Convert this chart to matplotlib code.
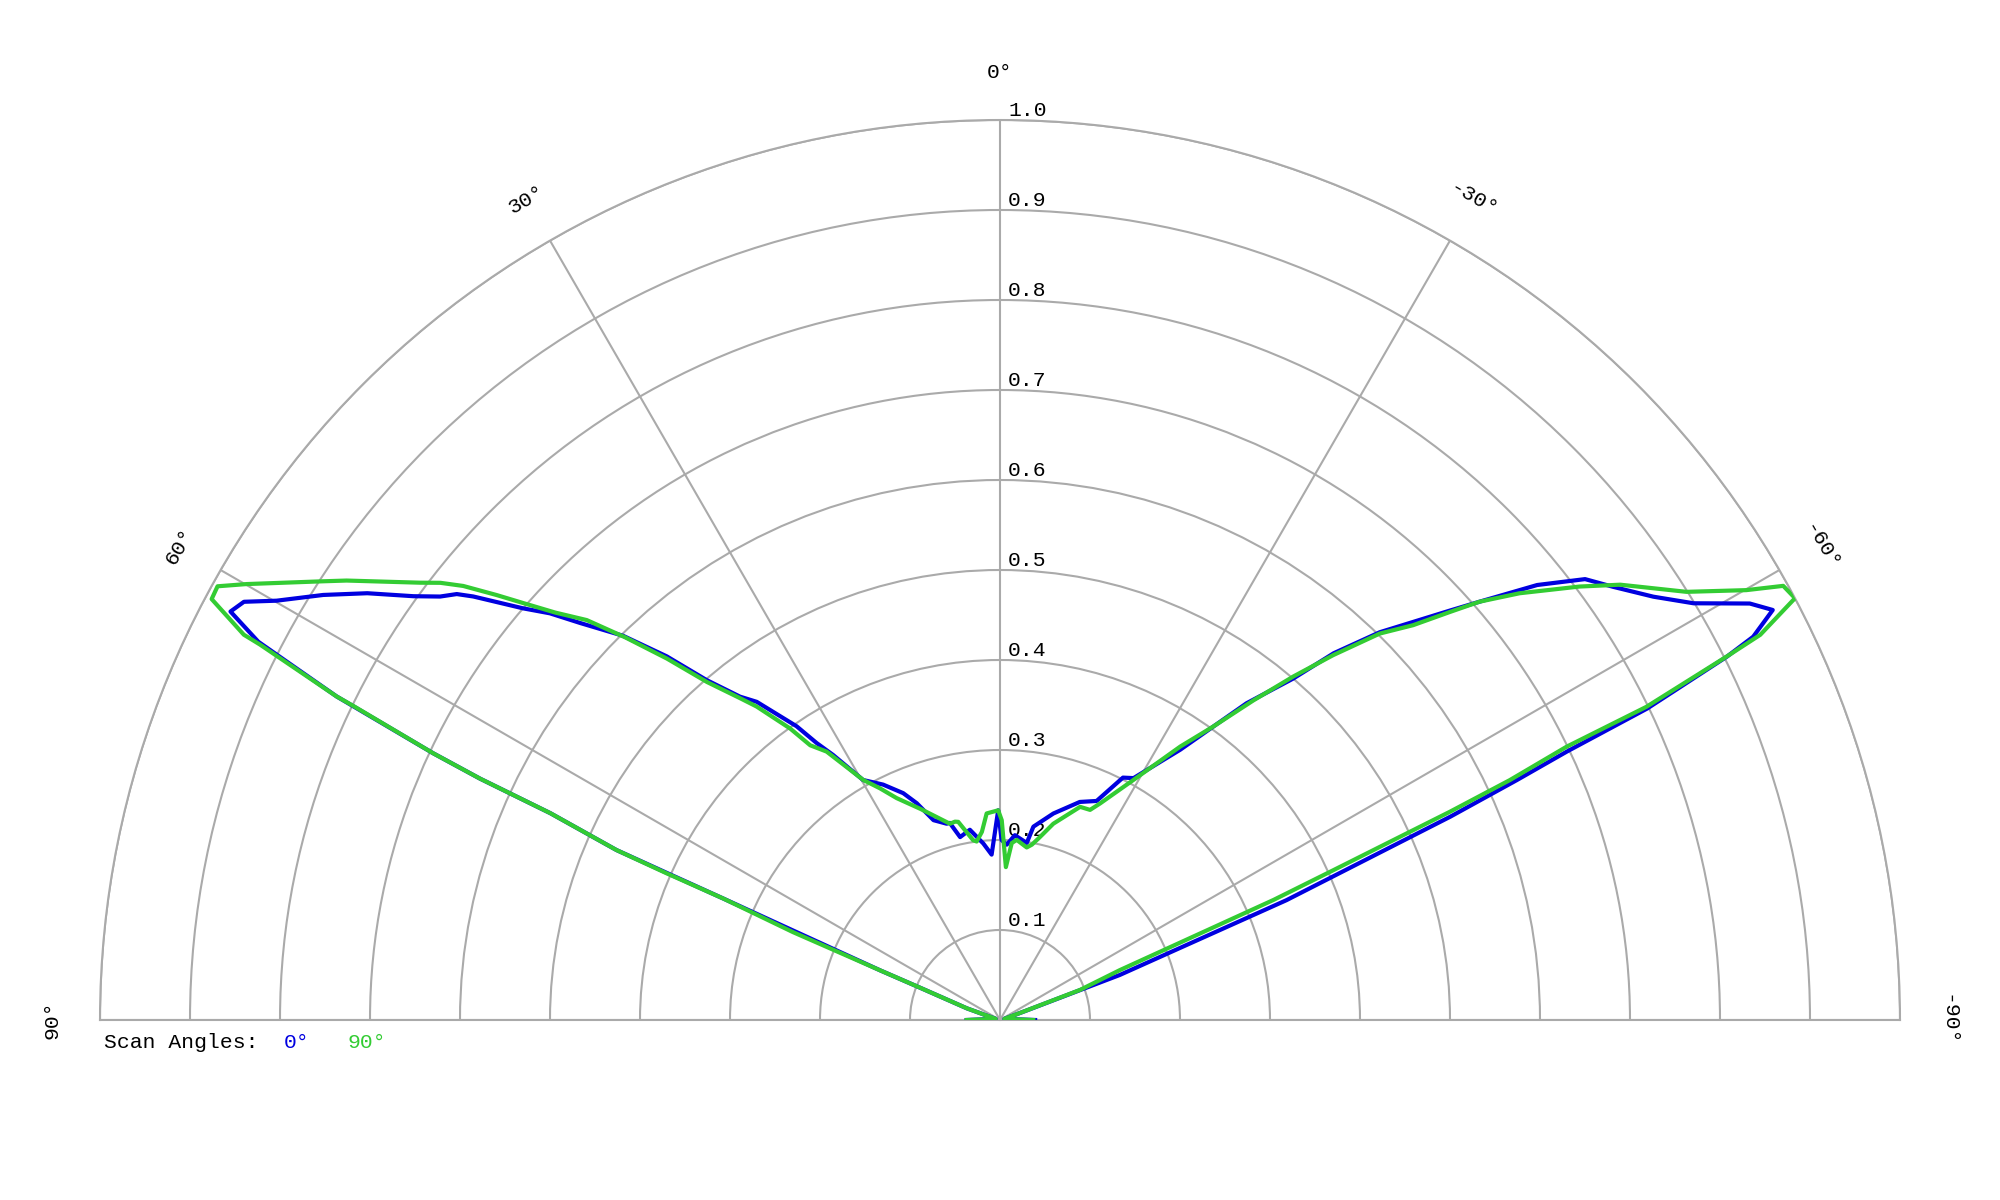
import numpy as np
import matplotlib
matplotlib.use("Agg")
import matplotlib.pyplot as plt

# relative intensity vs polar angle (deg), scan angle 0 deg
theta_0 = [-90, -75, -70.4, -69.4, -67.3, -65.7, -65.1, -64.66, -64.3, -64.0, -63.44, -63.03,
           -62.05, -60.95, -59.0, -57.06, -54.75, -53.0, -51.0, -48.9, -47.7, -44.4, -42.3,
           -40.65, -37.9, -33.7, -28.9, -26.9, -23.8, -20.1, -14.5, -9.8, -8.6, -4.6, -2.2,
           -0.5, 0.5, 2.9, 5.4, 9.0, 12.3, 14.3, 15.2, 18.4, 21.0, 23.1, 26.4, 29.7, 32.2,
           33.5, 34.7, 37.4, 38.8, 40.8, 42.5, 44.45, 46.6, 47.9, 49.2, 51.2, 51.9, 52.9,
           54.15, 56.0, 57.87, 59.9, 61.05, 62.04, 62.98, 64.0, 64.8, 65.1, 65.3, 66.1,
           66.3, 67.5, 68.0, 70.6, 75, 90]
r_0 = [0.039, 0.005, 0.03, 0.142, 0.345, 0.549, 0.633, 0.697, 0.798, 0.832, 0.903, 0.939,
       0.972, 0.953, 0.899, 0.865, 0.834, 0.814, 0.768, 0.707, 0.676, 0.603, 0.551,
       0.500, 0.446, 0.361, 0.307, 0.302, 0.266, 0.258, 0.237, 0.218, 0.199, 0.206, 0.195,
       0.200, 0.233, 0.184, 0.197, 0.214, 0.208, 0.226, 0.226, 0.234, 0.258, 0.274, 0.292,
       0.307, 0.348, 0.369, 0.397, 0.445, 0.461, 0.499, 0.548, 0.598, 0.642, 0.674, 0.700,
       0.751, 0.767, 0.780, 0.804, 0.848, 0.888, 0.929, 0.960, 0.968, 0.925, 0.820, 0.696,
       0.637, 0.550, 0.466, 0.336, 0.144, 0.096, 0.039, 0.005, 0.037]

# scan angle 90 deg
theta_90 = [-90, -75, -70.4, -69.4, -67.4, -66.3, -65.8, -65.16, -64.8, -64.25, -64.15, -63.4,
            -63.13, -62.05, -61.0, -60.06, -58.05, -54.94, -53.2, -50.6, -48.9, -47.8, -46.3,
            -44.5, -42.4, -40.5, -38.4, -36.0, -33.4, -29.05, -24.8, -23.2, -20.6, -15.2,
            -12.3, -10.3, -8.8, -5.3, -3.8, -2.2, -0.5, 0.5, 3.7, 5.5, 7.45, 8.5, 11.9, 12.8,
            14.3, 20.5, 24.98, 27.4, 29.67, 32.86, 34.64, 35.75, 37.83, 38.95, 40.92, 42.66,
            44.4, 45.94, 47.5, 48.84, 49.83, 51.04, 52.0, 52.98, 56.08, 57.04, 59.94, 61.0,
            61.9, 63.0, 63.1, 64.0, 64.1, 64.8, 65.1, 65.3, 66.1, 66.25, 66.3, 67.0, 67.5,
            68.0, 70.6, 75, 90]
r_90 = [0.037, 0.005, 0.027, 0.095, 0.144, 0.332, 0.406, 0.551, 0.626, 0.699, 0.798, 0.907,
        0.947, 1.000, 0.995, 0.957, 0.899, 0.842, 0.804, 0.747, 0.707, 0.675, 0.635,
        0.602, 0.549, 0.502, 0.453, 0.403, 0.364, 0.305, 0.265, 0.254, 0.253, 0.226,
        0.208, 0.198, 0.194, 0.201, 0.197, 0.170, 0.222, 0.233, 0.230, 0.210, 0.200, 0.202,
        0.225, 0.226, 0.225, 0.250, 0.272, 0.290, 0.307, 0.355, 0.371, 0.399, 0.441, 0.460,
        0.497, 0.546, 0.595, 0.639, 0.670, 0.704, 0.732, 0.767, 0.789, 0.807, 0.875, 0.896,
        0.967, 0.994, 0.993, 0.943, 0.922, 0.820, 0.798, 0.696, 0.637, 0.550, 0.466, 0.405,
        0.336, 0.25, 0.144, 0.096, 0.039, 0.005, 0.037]

ring_values = [0.1, 0.2, 0.3, 0.4, 0.5, 0.6, 0.7, 0.8, 0.9, 1.0]
angle_ticks = [90, 60, 30, 0, -30, -60, -90]
legend_labels = ["0°", "90°"]

BLUE = "#0000e0"
GREEN = "#33cc33"
GRID = "#aaaaaa"
MONO = "Liberation Mono"
FS = 15.4

W, H = 2000, 1200
cx, cy, R = 1000, 1020, 900   # centre and outer radius in pixels (from top-left)

fig = plt.figure(figsize=(W / 100, H / 100), dpi=100)
# polar axes are kept square; the half-disc sits centred inside a 2R x 2R box
side = 2 * R
box_top = cy - R / 2 - side / 2
ax = fig.add_axes([(cx - R) / W, (H - box_top - side) / H, side / W, side / H],
                  projection="polar")
ax.set_theta_zero_location("N")
ax.set_thetamin(-90)
ax.set_thetamax(90)
ax.set_ylim(0, 1)

ax.set_xticks(np.deg2rad(angle_ticks))
ax.set_yticks(ring_values)
ax.set_xticklabels([])
ax.set_yticklabels([])
ax.tick_params(length=0)
ax.grid(True, color=GRID, linewidth=1.5)
for sp in ax.spines.values():
    sp.set_color(GRID)
    sp.set_linewidth(1.5)

ax.plot(np.deg2rad(theta_0), r_0, color=BLUE, lw=3, zorder=3)
ax.plot(np.deg2rad(theta_90), r_90, color=GREEN, lw=3, zorder=4)

# ring labels along the 0 deg spoke
for v in ring_values:
    ax.annotate(f"{v:.1f}", xy=(0, v), xytext=(8, 4), textcoords="offset pixels",
                ha="left", va="baseline", family=MONO, fontsize=FS, zorder=1.8)

# angle labels outside the outer ring
for a in angle_ticks:
    ax.text(np.deg2rad(a), 1.053, f"{a}°", rotation=a, rotation_mode="anchor",
            ha="center", va="center", family=MONO, fontsize=FS)

# scan angle legend
adv = FS * 100 / 72 * 0.6
lx, ly = 104, 1042
fig.text(lx / W, 1 - ly / H, "Scan Angles:", family=MONO, fontsize=FS, va="center", ha="left")
for lab, col, col_idx in zip(legend_labels, [BLUE, GREEN], [14, 19]):
    fig.text((lx + col_idx * adv) / W, 1 - ly / H, lab, family=MONO, fontsize=FS,
             va="center", ha="left", color=col)

fig.savefig("out.png", dpi=100, facecolor="white")
